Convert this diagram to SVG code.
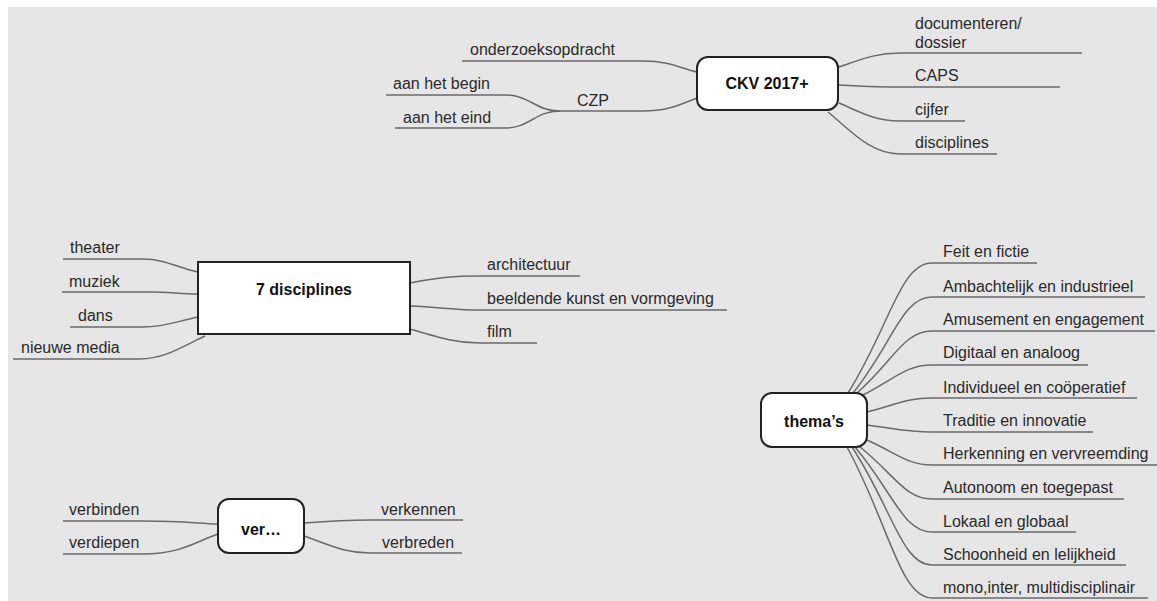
<svg xmlns="http://www.w3.org/2000/svg" width="1157" height="601" viewBox="0 0 1157 601">
<style>
.bg{fill:#e6e6e6}
.c{fill:none;stroke:#6a6a6a;stroke-width:1.5}
.box{fill:#ffffff;stroke:#222222;stroke-width:2}
.t{font-family:"Liberation Sans",Arial,sans-serif;font-size:16px;fill:#2a2a2a}
.b{font-family:"Liberation Sans",Arial,sans-serif;font-size:16px;font-weight:bold;fill:#111111;text-anchor:middle}
</style>
<rect width="1157" height="601" fill="#ffffff"/>
<rect class="bg" x="8" y="7" width="1149" height="594"/>
<g id="connectors">
<path class="c" d="M697,72 C680,68 670,61 643,61 L462,61"/>
<path class="c" d="M697,98 C680,104 670,111 643,111 L560,111"/>
<path class="c" d="M560,111 C535,111 530,95 505,95 L386,95"/>
<path class="c" d="M560,111 C535,111 530,128 505,128 L395,128"/>
<path class="c" d="M839,67 C860,60 875,53 900,53 L1082,53"/>
<path class="c" d="M839,85 C860,86 875,87 900,87 L1060,87"/>
<path class="c" d="M839,103 C860,112 875,121 900,121 L965,121"/>
<path class="c" d="M828,112 C850,130 870,154 900,154 L997,154"/>
<path class="c" d="M198,272 C178,268 165,259 143,259 L63,259"/>
<path class="c" d="M198,294 C180,294 170,292 150,292 L62,292"/>
<path class="c" d="M198,317 C178,321 165,327 143,327 L70,327"/>
<path class="c" d="M205,336 C185,345 165,359 140,359 L13,359"/>
<path class="c" d="M410,283 C440,277 455,276 480,276 L580,276"/>
<path class="c" d="M410,306 C440,307 455,310 480,310 L727,310"/>
<path class="c" d="M410,329 C440,338 455,343 480,343 L537,343"/>
<path class="c" d="M848,393 C890,326 900,263 932,263 L1037,263"/>
<path class="c" d="M853,393 C893,343 902,297 932,297 L1145,297"/>
<path class="c" d="M857,393 C894,360 904,331 932,331 L1155,331"/>
<path class="c" d="M863,395 C896,378 906,365 932,365 L1088,365"/>
<path class="c" d="M867,412 C898,404 908,398 932,398 L1137,398"/>
<path class="c" d="M867,425 C898,429 908,432 932,432 L1093,432"/>
<path class="c" d="M867,440 C898,454 908,465 932,465 L1157,465"/>
<path class="c" d="M860,447 C895,475 905,499 932,499 L1124,499"/>
<path class="c" d="M855,447 C893,492 903,532 932,532 L1076,532"/>
<path class="c" d="M852,447 C892,508 902,565 932,565 L1126,565"/>
<path class="c" d="M847,447 C889,524 900,598 932,598 L1148,598"/>
<path class="c" d="M218,524 C195,523 180,521 143,521 L63,521"/>
<path class="c" d="M218,534 C195,542 180,554 143,554 L63,554"/>
<path class="c" d="M304,523 C330,521 345,520 370,520 L463,520"/>
<path class="c" d="M304,536 C330,545 345,553 370,553 L462,553"/>
</g>
<g id="ckv">
<rect class="box" x="697" y="57" width="141" height="53" rx="11"/>
<text class="b" x="767" y="89">CKV 2017+</text>
</g>
<g id="onderzoeksopdracht"><text class="t" x="470" y="55">onderzoeksopdracht</text></g>
<g id="czp"><text class="t" x="577" y="106">CZP</text></g>
<g id="begin"><text class="t" x="393" y="89">aan het begin</text></g>
<g id="eind"><text class="t" x="403" y="123">aan het eind</text></g>
<g id="documenteren"><text class="t" x="915" y="29">documenteren/</text><text class="t" x="915" y="48">dossier</text></g>
<g id="caps"><text class="t" x="915" y="81">CAPS</text></g>
<g id="cijfer"><text class="t" x="915" y="115">cijfer</text></g>
<g id="disciplines"><text class="t" x="915" y="148">disciplines</text></g>
<g id="zeven">
<rect class="box" x="198" y="262" width="212" height="72" rx="0"/>
<text class="b" x="304" y="295">7 disciplines</text>
</g>
<g id="theater"><text class="t" x="70" y="253">theater</text></g>
<g id="muziek"><text class="t" x="69" y="287">muziek</text></g>
<g id="dans"><text class="t" x="78" y="321">dans</text></g>
<g id="nieuwe"><text class="t" x="21" y="353">nieuwe media</text></g>
<g id="architectuur"><text class="t" x="487" y="270">architectuur</text></g>
<g id="beeldende"><text class="t" x="487" y="304">beeldende kunst en vormgeving</text></g>
<g id="film"><text class="t" x="487" y="337">film</text></g>
<g id="themas">
<rect class="box" x="761" y="393" width="106" height="54" rx="11"/>
<text class="b" x="814" y="427">thema’s</text>
</g>
<g id="t1"><text class="t" x="943" y="257">Feit en fictie</text></g>
<g id="t2"><text class="t" x="943" y="292">Ambachtelijk en industrieel</text></g>
<g id="t3"><text class="t" x="943" y="325">Amusement en engagement</text></g>
<g id="t4"><text class="t" x="943" y="358">Digitaal en analoog</text></g>
<g id="t5"><text class="t" x="943" y="393">Individueel en coöperatief</text></g>
<g id="t6"><text class="t" x="943" y="426">Traditie en innovatie</text></g>
<g id="t7"><text class="t" x="943" y="459">Herkenning en vervreemding</text></g>
<g id="t8"><text class="t" x="943" y="493">Autonoom en toegepast</text></g>
<g id="t9"><text class="t" x="943" y="527">Lokaal en globaal</text></g>
<g id="t10"><text class="t" x="943" y="560">Schoonheid en lelijkheid</text></g>
<g id="t11"><text class="t" x="943" y="593">mono,inter, multidisciplinair</text></g>
<g id="ver">
<rect class="box" x="218" y="499" width="86" height="54" rx="11"/>
<text class="b" x="261" y="535">ver…</text>
</g>
<g id="verbinden"><text class="t" x="69" y="515">verbinden</text></g>
<g id="verdiepen"><text class="t" x="69" y="548">verdiepen</text></g>
<g id="verkennen"><text class="t" x="381" y="515">verkennen</text></g>
<g id="verbreden"><text class="t" x="382" y="548">verbreden</text></g>
</svg>
